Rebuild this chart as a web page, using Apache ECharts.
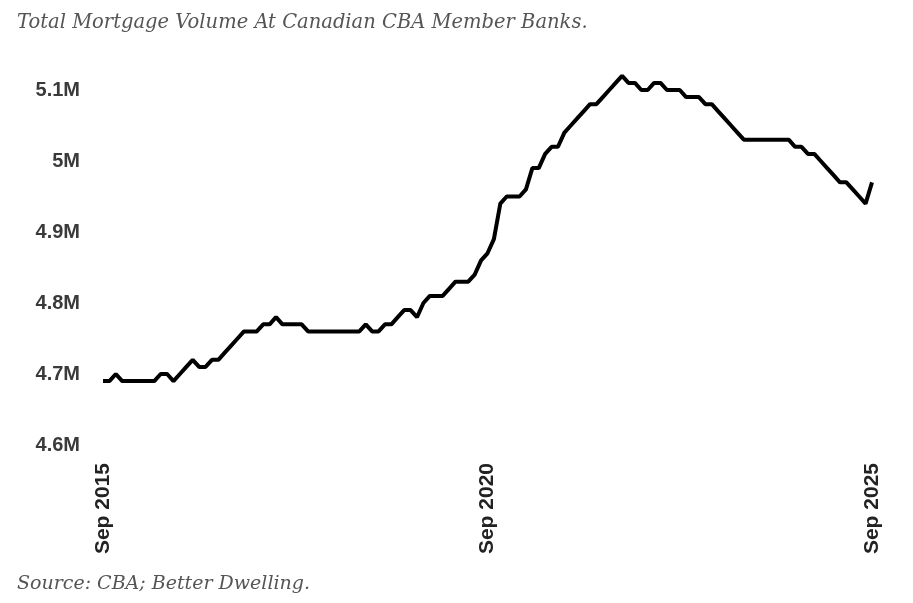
<!DOCTYPE html>
<html><head><meta charset="utf-8">
<script src="https://cdn.jsdelivr.net/npm/echarts@6/dist/echarts.min.js"></script>
<style>html,body{margin:0;padding:0;background:#fff}#c{width:913px;height:603px}</style>
</head><body><div id="c"></div>
<script>
const startYear = 2015, startMonth = 8; // Sep 2015
const values = [
4.69,4.69,4.70,4.69,4.69,4.69,4.69,4.69,4.69,4.70,
4.70,4.69,4.70,4.71,4.72,4.71,4.71,4.72,4.72,4.73,
4.74,4.75,4.76,4.76,4.76,4.77,4.77,4.78,4.77,4.77,
4.77,4.77,4.76,4.76,4.76,4.76,4.76,4.76,4.76,4.76,
4.76,4.77,4.76,4.76,4.77,4.77,4.78,4.79,4.79,4.78,
4.80,4.81,4.81,4.81,4.82,4.83,4.83,4.83,4.84,4.86,
4.87,4.89,4.94,4.95,4.95,4.95,4.96,4.99,4.99,5.01,
5.02,5.02,5.04,5.05,5.06,5.07,5.08,5.08,5.09,5.10,
5.11,5.12,5.11,5.11,5.10,5.10,5.11,5.11,5.10,5.10,
5.10,5.09,5.09,5.09,5.08,5.08,5.07,5.06,5.05,5.04,
5.03,5.03,5.03,5.03,5.03,5.03,5.03,5.03,5.02,5.02,
5.01,5.01,5.00,4.99,4.98,4.97,4.97,4.96,4.95,4.94,
4.97];
const monthNames = ['Jan','Feb','Mar','Apr','May','Jun','Jul','Aug','Sep','Oct','Nov','Dec'];
const categories = values.map((v,i)=>{const m=startMonth+i;return monthNames[m%12]+' '+(startYear+Math.floor(m/12));});
const shownLabels = ['Sep 2015','Sep 2020','Sep 2025'];
const titleText = 'Total Mortgage Volume At Canadian CBA Member Banks.';
const sourceText = 'Source: CBA; Better Dwelling.';

const chart = echarts.init(document.getElementById('c'));
chart.setOption({
  animation:false,
  backgroundColor:'#fff',
  title:[
    {text:titleText,left:12,top:8,textStyle:{fontFamily:'DejaVu Serif',fontStyle:'italic',fontWeight:'normal',fontSize:19.5,color:'#555'}},
    {text:sourceText,left:12,top:570,textStyle:{fontFamily:'DejaVu Serif',fontStyle:'italic',fontWeight:'normal',fontSize:19,color:'#555'}}
  ],
  grid:{left:103,right:41,top:54.5,bottom:158,containLabel:false},
  xAxis:{type:'category',data:categories,boundaryGap:false,
    axisLine:{show:false},axisTick:{show:false},splitLine:{show:false},
    axisLabel:{rotate:90,margin:18,interval:0,fontFamily:'Arial, Liberation Sans',fontWeight:'bold',fontSize:21,color:'#222',
      formatter:(v)=>shownLabels.includes(v)?v:''}},
  yAxis:{type:'value',min:4.6,max:5.15,interval:0.1,
    axisLine:{show:false},axisTick:{show:false},splitLine:{show:false},
    axisLabel:{showMaxLabel:false,margin:23,fontFamily:'Arial, Liberation Sans',fontWeight:'bold',fontSize:20,color:'#3a3a3a',
      formatter:(v)=>(Math.round(v*10)/10)+'M'}},
  series:[{type:'line',data:values,symbol:'none',lineStyle:{color:'#000',width:4},itemStyle:{color:'#000'}}]
});
</script></body></html>
